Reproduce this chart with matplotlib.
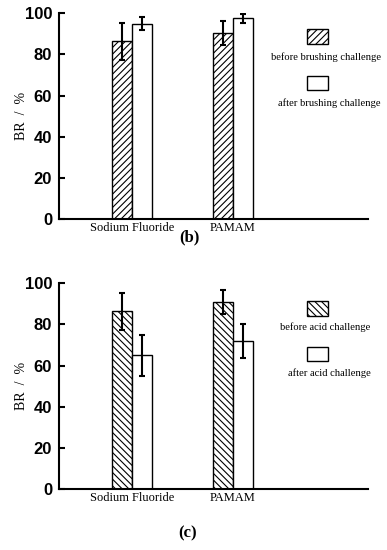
import numpy as np
import matplotlib.pyplot as plt
from matplotlib.patches import Rectangle

# ------------------ Data ------------------
groups = ["Sodium Fluoride", "PAMAM"]

brush_before = [86.5, 90.5]
brush_before_err = [9.0, 6.0]
brush_after = [95.0, 97.5]
brush_after_err = [3.2, 2.0]

acid_before = [86.5, 90.7]
acid_before_err = [9.0, 5.8]
acid_after = [65.0, 72.0]
acid_after_err = [10.0, 8.2]

panels = [
    ("(b)", brush_before, brush_before_err, brush_after, brush_after_err,
     "before brushing challenge", "after brushing challenge", "/////"),
    ("(c)", acid_before, acid_before_err, acid_after, acid_after_err,
     "before acid challenge", "after acid challenge", "\\\\\\\\\\"),
]

plt.rcParams["hatch.linewidth"] = 0.8

fig = plt.figure(figsize=(3.87, 5.5), dpi=100)
axes_rects = [
    [0.1525, 0.6018, 0.798, 0.374],
    [0.1525, 0.111, 0.798, 0.374],
]
label_pos = [(0.49, 0.569), (0.485, 0.03)]
# (box1 bottom, text1 y, box2 bottom, text2 y) in axes fraction
legend_y = [(0.85, 0.786, 0.626, 0.563), (0.841, 0.788, 0.622, 0.564)]

x = np.arange(len(groups))
w = 0.2

for i, (tag, bef, bef_err, aft, aft_err, lab1, lab2, hatch) in enumerate(panels):
    ax = fig.add_axes(axes_rects[i])
    ax.bar(x - w / 2, bef, w, color="white", edgecolor="black", hatch=hatch, linewidth=1.0)
    ax.bar(x + w / 2, aft, w, color="white", edgecolor="black", linewidth=1.0)
    ax.errorbar(x - w / 2, bef, yerr=bef_err, fmt="none", ecolor="black",
                elinewidth=1.5, capsize=2.5, capthick=1.5)
    ax.errorbar(x + w / 2, aft, yerr=aft_err, fmt="none", ecolor="black",
                elinewidth=1.5, capsize=2.5, capthick=1.5)

    ax.set_xlim(-0.723, 2.337)
    ax.set_ylim(0, 100)
    ax.set_yticks([0, 20, 40, 60, 80, 100])
    ax.set_xticks(x)
    ax.set_xticklabels(groups, family="Liberation Serif", fontsize=9)
    ax.tick_params(axis="x", length=0, pad=2)
    ax.tick_params(axis="y", direction="in", length=4, width=1.5, pad=5)
    for t in ax.get_yticklabels():
        t.set_fontfamily("Liberation Sans")
        t.set_fontweight("bold")
        t.set_fontsize(12)
    for s in ["top", "right"]:
        ax.spines[s].set_visible(False)
    for s in ["left", "bottom"]:
        ax.spines[s].set_linewidth(1.5)
    ax.set_ylabel("BR  /  %", family="Liberation Serif", fontsize=10)
    ax.yaxis.set_label_coords(-0.12, 0.5)
    ax.yaxis.label.set_va("center")

    # legend drawn by hand: swatch above text
    b1, t1, b2, t2 = legend_y[i]
    ax.add_patch(Rectangle((0.803, b1), 0.068, 0.072, transform=ax.transAxes,
                           facecolor="white", edgecolor="black", hatch=hatch,
                           linewidth=1.0, clip_on=False))
    ax.text(0.863, t1, lab1, transform=ax.transAxes, ha="center", va="center",
            family="Liberation Serif", fontsize=7.6)
    ax.add_patch(Rectangle((0.803, b2), 0.068, 0.068, transform=ax.transAxes,
                           facecolor="white", edgecolor="black", linewidth=1.0, clip_on=False))
    ax.text(0.875, t2, lab2, transform=ax.transAxes, ha="center", va="center",
            family="Liberation Serif", fontsize=7.6)

    fig.text(label_pos[i][0], label_pos[i][1], tag, ha="center", va="center",
             family="Liberation Serif", fontweight="bold", fontsize=12)

plt.savefig("out.png", dpi=100)
plt.close()
